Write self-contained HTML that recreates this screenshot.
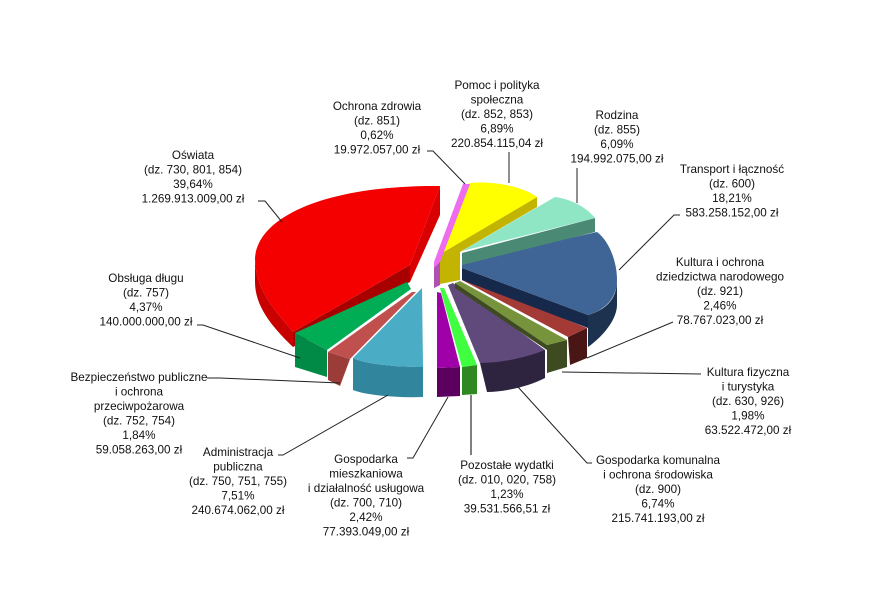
<!DOCTYPE html>
<html><head><meta charset="utf-8"><style>
html,body{margin:0;padding:0;background:#fff;}
svg{display:block;}
text{font-family:"Liberation Sans",sans-serif;font-size:11.7px;fill:#111;text-anchor:middle;}
</style></head><body>
<svg width="870" height="616" viewBox="0 0 870 616" xmlns="http://www.w3.org/2000/svg">
<rect width="870" height="616" fill="#fff"/>
<path d="M255,258 C255,290 275,310 293,332 L293,347 C270,325 255,305 255,282 Z" fill="#c80000"/>
<path d="M410,265 L293,332 L293,347 L410,282 Z" fill="#a80000"/>
<path d="M440,186 L440,215 L410,282 L410,265 Z" fill="#d80000"/>
<path d="M440,186 L410,265 L293,332 C275,310 255,290 255,258 C258,215 330,185 440,186 Z" fill="#f40000"/>
<path d="M295,333 L295,367 L327,377 L327,350 Z" fill="#008a45"/>
<path d="M295,333 L407,282 L411,289 L327,350 Z" fill="#00ad55"/>
<path d="M328,352 L328,380 L340,386 L350,359 Z" fill="#9c3c38"/>
<path d="M328,352 L412,292 L416,292 L350,359 Z" fill="#c0504d"/>
<path d="M353,358 L353,390 C365,395 395,398 423,397 L423,367 C395,367 365,364 353,358 Z" fill="#31859c"/>
<path d="M422,288 L353,358 C365,364 395,367 423,367 Z" fill="#4bacc6"/>
<path d="M437,368 L437,397 L460,396 L460,367 Z" fill="#5c0060"/>
<path d="M437,292 L437,368 L460,367 L441,293 Z" fill="#a000a8"/>
<path d="M462,367 L462,395 L477,394 L477,365 Z" fill="#2e8a20"/>
<path d="M440,288 L462,367 L477,365 L444,288 Z" fill="#40ff40"/>
<path d="M448,285 L480,363 L487,392 C505,392 530,386 545,378 L545,350 Z" fill="#2e2440"/>
<path d="M448,285 L480,363 C500,363 525,358 545,350 L453,283 Z" fill="#604a7b"/>
<path d="M547,345 L547,373 L567,367 L567,340 Z" fill="#3e4a20"/>
<path d="M455,283 L547,345 L567,340 L460,281 Z" fill="#77933c"/>
<path d="M455,283 L547,345 L547,350 L455,288 Z" fill="#3e4a20"/>
<path d="M568,337 L570,365 L587,358 L587,328 Z" fill="#4a1515"/>
<path d="M462,280 L568,337 L587,328 L464,278 Z" fill="#a33a36"/>
<path d="M462,268 L588,315 L588,347 C605,335 617,318 617,305 L617,280 C617,300 605,310 588,315 Z" fill="#1c324f"/>
<path d="M462,268 L588,315 L588,328 L462,280 Z" fill="#17294a"/>
<path d="M462,262 L597,232 C608,240 617,260 617,280 C617,298 605,310 588,315 L462,268 Z" fill="#3f6496"/>
<path d="M462,253 L595,218 L595,232 L462,265 Z" fill="#4a8a75"/>
<path d="M462,251 L555,197 C570,199 585,206 595,218 Z" fill="#8ee6c4"/>
<path d="M438,265 L442,253 L537,197 L537,207 L460,252 L460,280 L440,284 Z" fill="#c2b400"/>
<path d="M442,253 L470,183 C490,181 520,185 537,197 Z" fill="#ffff00"/>
<path d="M463,184 L470,184 L440,262 L440,285 L434,288 L434,262 Z" fill="#ee6cee"/>
<path d="M434,268 L440,262 L440,285 L434,288 Z" fill="#b050b0"/>

<g stroke="#222" stroke-width="1" fill="none">
<polyline points="258,201 265,201 282,222"/>
<polyline points="427,151 433,151 465,184"/>
<polyline points="509,152 509,183"/>
<polyline points="577,168 577,203"/>
<polyline points="680,215 674,215 619,270"/>
<polyline points="673,322 587,358"/>
<polyline points="701,374 562,372"/>
<polyline points="592,463 587,463 518,387"/>
<polyline points="471,395 471,455" stroke="#555" stroke-width="1.5"/>
<polyline points="407,458 413,458 448,397"/>
<polyline points="278,455 283,455 388,395"/>
<polyline points="207,378 220,378 340,383"/>
<polyline points="197,325 203,325 300,358"/>
</g>

<text x="193" y="159">Oświata<tspan x="193" dy="14.5">(dz. 730, 801, 854)</tspan><tspan x="193" dy="14.5">39,64%</tspan><tspan x="193" dy="14.5">1.269.913.009,00 zł</tspan></text>
<text x="377" y="110">Ochrona zdrowia<tspan x="377" dy="14.5">(dz. 851)</tspan><tspan x="377" dy="14.5">0,62%</tspan><tspan x="377" dy="14.5">19.972.057,00 zł</tspan></text>
<text x="146" y="282">Obsługa długu<tspan x="146" dy="14.5">(dz. 757)</tspan><tspan x="146" dy="14.5">4,37%</tspan><tspan x="146" dy="14.5">140.000.000,00 zł</tspan></text>
<text x="497" y="89">Pomoc i polityka<tspan x="497" dy="14.5">społeczna</tspan><tspan x="497" dy="14.5">(dz. 852, 853)</tspan><tspan x="497" dy="14.5">6,89%</tspan><tspan x="497" dy="14.5">220.854.115,04  zł</tspan></text>
<text x="617" y="119">Rodzina<tspan x="617" dy="14.5">(dz. 855)</tspan><tspan x="617" dy="14.5">6,09%</tspan><tspan x="617" dy="14.5">194.992.075,00  zł</tspan></text>
<text x="732" y="173">Transport i łączność<tspan x="732" dy="14.5">(dz. 600)</tspan><tspan x="732" dy="14.5">18,21%</tspan><tspan x="732" dy="14.5">583.258.152,00 zł</tspan></text>
<text x="720" y="266">Kultura i ochrona<tspan x="720" dy="14.5">dziedzictwa narodowego</tspan><tspan x="720" dy="14.5">(dz. 921)</tspan><tspan x="720" dy="14.5">2,46%</tspan><tspan x="720" dy="14.5">78.767.023,00 zł</tspan></text>
<text x="748" y="376">Kultura fizyczna<tspan x="748" dy="14.5">i turystyka</tspan><tspan x="748" dy="14.5">(dz. 630, 926)</tspan><tspan x="748" dy="14.5">1,98%</tspan><tspan x="748" dy="14.5">63.522.472,00 zł</tspan></text>
<text x="139" y="381">Bezpieczeństwo publiczne<tspan x="139" dy="14.5">i ochrona</tspan><tspan x="139" dy="14.5">przeciwpożarowa</tspan><tspan x="139" dy="14.5">(dz. 752, 754)</tspan><tspan x="139" dy="14.5">1,84%</tspan><tspan x="139" dy="14.5">59.058.263,00 zł</tspan></text>
<text x="238" y="456">Administracja<tspan x="238" dy="14.5">publiczna</tspan><tspan x="238" dy="14.5">(dz. 750, 751, 755)</tspan><tspan x="238" dy="14.5">7,51%</tspan><tspan x="238" dy="14.5">240.674.062,00 zł</tspan></text>
<text x="366" y="463">Gospodarka<tspan x="366" dy="14.5">mieszkaniowa</tspan><tspan x="366" dy="14.5">i działalność usługowa</tspan><tspan x="366" dy="14.5">(dz. 700, 710)</tspan><tspan x="366" dy="14.5">2,42%</tspan><tspan x="366" dy="14.5">77.393.049,00 zł</tspan></text>
<text x="507" y="469">Pozostałe wydatki<tspan x="507" dy="14.5">(dz. 010, 020, 758)</tspan><tspan x="507" dy="14.5">1,23%</tspan><tspan x="507" dy="14.5">39.531.566,51 zł</tspan></text>
<text x="658" y="464">Gospodarka komunalna<tspan x="658" dy="14.5">i ochrona środowiska</tspan><tspan x="658" dy="14.5">(dz. 900)</tspan><tspan x="658" dy="14.5">6,74%</tspan><tspan x="658" dy="14.5">215.741.193,00 zł</tspan></text>
</svg>
</body></html>
